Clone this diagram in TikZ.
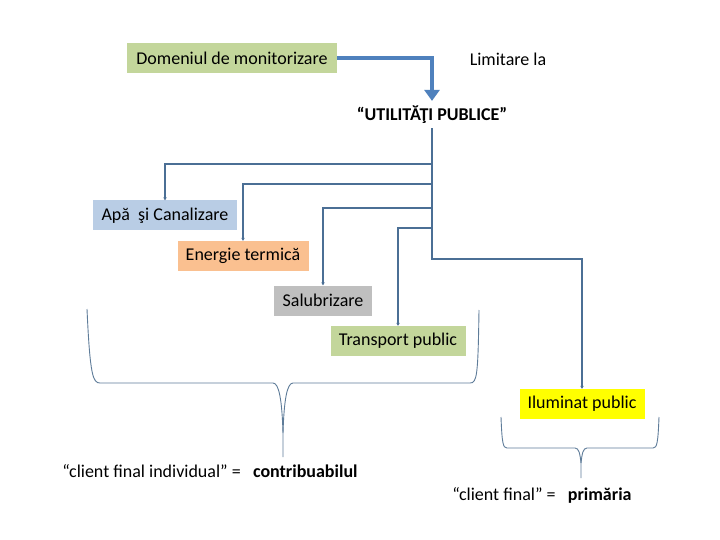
\documentclass[tikz,border=0pt]{standalone}
\usepackage{fontspec}
\setmainfont{Carlito}
\usetikzlibrary{arrows.meta, positioning, calc}
\definecolor{oliv}{HTML}{C3D69B}
\definecolor{skyb}{HTML}{B9CDE5}
\definecolor{peach}{HTML}{FAC090}
\definecolor{ashgray}{HTML}{BFBFBF}
\definecolor{lampy}{HTML}{FFFF00}
\definecolor{flowblue}{HTML}{4F81BD}
\definecolor{linkblue}{HTML}{4B6F95}
\definecolor{bracegray}{HTML}{5E7C99}
\begin{document}
\begin{tikzpicture}[x=1pt, y=-1pt,
  txt/.style={font=\fontsize{18}{21}\selectfont, inner sep=0pt},
  box/.style={txt, minimum height=30pt},
  link/.style={draw=linkblue, line width=1.8pt, -{Stealth[length=3pt, width=3.5pt]}},
  bigarrow/.style={draw=flowblue, line width=4.5pt, -{Triangle[length=11pt, width=15pt]}},
  bracepath/.style={draw=bracegray, line width=0.9pt}]

% Background / frame
\fill[white] (0,0) rectangle (720,540);

% --- Top part ---
\node[box, fill=oliv, minimum width=210pt] (dom) at (232,58) {Domeniul de monitorizare};
\node[txt] (lim) at (508,59) {Limitare la};
\node[txt, font=\fontsize{18}{21}\selectfont\bfseries] (util) at (432,115) {“UTILITĂŢI PUBLICE”};

\draw[bigarrow, shorten >=5pt] (dom.east) -| (util.north);

% --- Utilities ---
\node[box, fill=skyb, minimum width=144pt] (apa) at (165,215.5) {Apă \ şi Canalizare};
\node[box, fill=peach, minimum width=131pt] (ener) at (243,256) {Energie termică};
\node[box, fill=ashgray, minimum width=98pt] (salub) at (323,300.5) {Salubrizare};
\node[box, fill=oliv, minimum width=135pt] (transp) at (398,341) {Transport public};
\node[box, fill=lampy, minimum width=125pt] (ilum) at (582,404) {Iluminat public};

% junctions on the trunk
\coordinate (j1) at (432,164);
\coordinate (j2) at (432,184);
\coordinate (j3) at (432,208);
\coordinate (j4) at (432,228);
\coordinate (j5) at (432,259);

\draw[link] (util.south) ++(0,4) -- (j5) -| (ilum.north);
\draw[link] (j1) -| (apa.north);
\draw[link] (j2) -| (ener.north);
\draw[link] (j3) -| (salub.north);
\draw[link] (j4) -| (transp.north);

% --- Braces ---
\draw[bracepath] (87,309) .. controls (90,376) and (93,383) .. (100,383) -- (273,383)
  .. controls (279,383) and (282,400) .. (283,433) -- (283,457);
\draw[bracepath] (283,433) .. controls (284,400) and (287,383) .. (293,383) -- (470,383)
  .. controls (477,383) and (478,376) .. (479,310);

\draw[bracepath] (501,417) .. controls (502,443) and (503,448) .. (507,448) -- (575,448)
  .. controls (579,448) and (580,454) .. (581,463) -- (581,478);
\draw[bracepath] (581,463) .. controls (582,454) and (583,448) .. (587,448) -- (653,448)
  .. controls (657,448) and (658,443) .. (659,417);

% --- Labels ---
\node[txt] (cfi) at (210,471) {“client final individual” = \ \ \textbf{contribuabilul}};
\node[txt] (cf) at (542,495) {“client final” = \ \ \textbf{primăria}};

\end{tikzpicture}
\end{document}
